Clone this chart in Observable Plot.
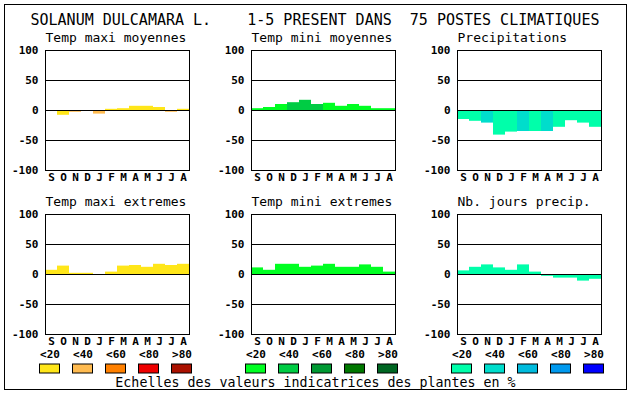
<!DOCTYPE html>
<html>
<head>
<meta charset="utf-8">
<script src="https://cdn.jsdelivr.net/npm/d3@7"></script>
<script src="https://cdn.jsdelivr.net/npm/@observablehq/plot@0.6"></script>
<style>
  html, body { margin: 0; padding: 0; background: #fff; }
  #root { position: relative; width: 630px; height: 394px; background: #fff; overflow: hidden; }
  #root > svg, #root > div { position: absolute; }
  .border { left: 4px; top: 4px; width: 623px; height: 386px; box-sizing: border-box; border: 1px solid #000; }
  .title { left: 30.5px; top: 14.8px; font: 15px/11px "DejaVu Sans Mono", monospace; white-space: pre; color: #000; }
  .caption { left: 0; width: 631px; top: 377px; text-align: center; font: 13.3px/11px "DejaVu Sans Mono", monospace; white-space: pre; color: #000; }
</style>
</head>
<body>
<div id="root"></div>
<script>
const months = ["S","O","N","D","J","F","M","A","M","J","J","A"];
const yTicks = [-100, -50, 0, 50, 100];
const gridLines = [-50, 0, 50];
const legendLabels = ["<20", "<40", "<60", "<80", ">80"];

const paletteTemp  = ["#ffe619", "#ffbb50", "#ff8000", "#ee0000", "#aa1100"];
const paletteMini  = ["#00ff22", "#00cc44", "#009933", "#007700", "#006622"];
const palettePrec  = ["#00ffaa", "#00ddcc", "#00bbdd", "#0099ee", "#0000ff"];

const titleText = "SOLANUM DULCAMARA L.    1-5 PRESENT DANS  75 POSTES CLIMATIQUES";
const captionText = "Echelles des valeurs indicatrices des plantes en %";

const panelTitles = ["Temp maxi moyennes", "Temp mini moyennes", "Precipitations",
                     "Temp maxi extremes", "Temp mini extremes", "Nb. jours precip."];

const tmaxMoy    = [0, -8, -3, 0, -6, 2, 3, 7, 7, 5, -3, 2];
const tmaxMoyLvl = [0, 0, 1, 0, 1, 0, 0, 0, 0, 0, 1, 0];
const tminMoy    = [3, 5, 10, 13, 17, 10, 12, 7, 10, 7, 3, 3];
const tminMoyLvl = [0, 0, 0, 1, 1, 1, 0, 0, 0, 0, 0, 0];
const precip     = [-15, -18, -21, -41, -36, -35, -35, -35, -28, -17, -21, -28];
const precipLvl  = [0, 0, 1, 0, 0, 1, 0, 1, 0, 0, 0, 0];
const tmaxExt    = [7, 14, 2, 2, 0, 4, 14, 15, 12, 17, 15, 17];
const tmaxExtLvl = [0, 0, 0, 0, 0, 0, 0, 0, 0, 0, 0, 0];
const tminExt    = [11, 7, 17, 17, 12, 14, 17, 12, 12, 16, 12, 4];
const tminExtLvl = [0, 0, 0, 0, 0, 0, 0, 0, 0, 0, 0, 0];
const nbJours    = [6, 12, 16, 11, 7, 16, 4, -3, -6, -6, -11, -8];
const nbJoursLvl = [0, 0, 0, 0, 0, 0, 0, 0, 0, 0, 0, 0];

const root = document.getElementById("root");

const border = document.createElement("div");
border.className = "border";
root.appendChild(border);

const t = document.createElement("div");
t.className = "title";
t.textContent = titleText;
root.appendChild(t);

const cap = document.createElement("div");
cap.className = "caption";
cap.textContent = captionText;
root.appendChild(cap);

const ML = 45, MT = 20, MR = 8, MB = 16, FW = 144, FH = 120;

function panel(title, values, levels, palette, frameLeft, frameTop) {
  const data = values.map((v, i) => ({i, v, lvl: levels[i]}));
  const svg = Plot.plot({
    width: ML + FW + MR,
    height: MT + FH + MB,
    marginLeft: ML, marginRight: MR, marginTop: MT, marginBottom: MB,
    style: {fontFamily: "DejaVu Sans Mono", fontSize: "11px", fontWeight: "bold", color: "#000", background: "transparent", overflow: "visible"},
    x: {type: "band", domain: d3.range(12), padding: 0, tickSize: 0, tickPadding: 3, tickFormat: i => months[i], label: null},
    y: {domain: [-100, 100], ticks: yTicks, tickSize: 0, tickPadding: 7, tickFormat: d => String(d), label: null},
    color: {type: "ordinal", domain: [0, 1, 2, 3, 4], range: palette},
    marks: [
      Plot.barY(data, {x: "i", y1: 0, y2: "v", fill: d => d.lvl}),
      Plot.ruleY(gridLines, {stroke: "#000"}),
      Plot.frame({stroke: "#000"}),
      Plot.text([title], {frameAnchor: "top-left", dy: -8.5, lineAnchor: "bottom", textAnchor: "start",
        fontSize: 13, fontWeight: "normal", fontFamily: "DejaVu Sans Mono", fill: "#000"})
    ]
  });
  svg.style.left = (frameLeft - ML) + "px";
  svg.style.top = (frameTop - MT) + "px";
  root.appendChild(svg);
}

const STEP = 33;
function legend(palette, frameLeft) {
  const svg = Plot.plot({
    width: 5 * STEP, height: 14 + 9,
    marginLeft: 0, marginRight: 0, marginTop: 14, marginBottom: 0,
    style: {fontFamily: "DejaVu Sans Mono", fontSize: "11px", fontWeight: "bold", color: "#000", background: "transparent", overflow: "visible"},
    x: {type: "band", domain: legendLabels, padding: 0, axis: null},
    y: {domain: [0, 1], axis: null},
    color: {type: "ordinal", domain: legendLabels, range: palette},
    marks: [
      Plot.barY(legendLabels, {x: d => d, y1: 0, y2: 1, fill: d => d, stroke: "#000", insetLeft: 6.5, insetRight: 6.5}),
      Plot.text(legendLabels, {x: d => d, text: d => d, frameAnchor: "top", dy: -10, lineAnchor: "middle", fill: "#000"})
    ]
  });
  svg.style.left = (frameLeft - 12.5) + "px";
  svg.style.top = (364 - 14) + "px";
  root.appendChild(svg);
}

const cols = [45, 251, 457];
const rows = [50, 214];

panel(panelTitles[0], tmaxMoy, tmaxMoyLvl, paletteTemp, cols[0], rows[0]);
panel(panelTitles[1], tminMoy, tminMoyLvl, paletteMini, cols[1], rows[0]);
panel(panelTitles[2], precip, precipLvl, palettePrec, cols[2], rows[0]);
panel(panelTitles[3], tmaxExt, tmaxExtLvl, paletteTemp, cols[0], rows[1]);
panel(panelTitles[4], tminExt, tminExtLvl, paletteMini, cols[1], rows[1]);
panel(panelTitles[5], nbJours, nbJoursLvl, palettePrec, cols[2], rows[1]);

legend(paletteTemp, cols[0]);
legend(paletteMini, cols[1]);
legend(palettePrec, cols[2]);
</script>
</body>
</html>
